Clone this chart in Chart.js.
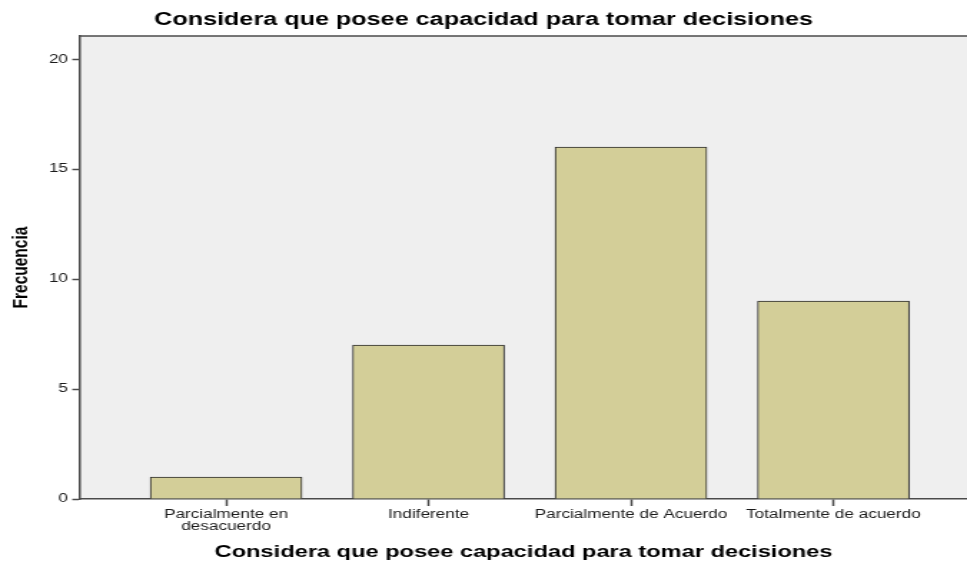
<!DOCTYPE html>
<html>
<head>
<meta charset="utf-8">
<script src="https://cdn.jsdelivr.net/npm/chart.js@4"></script>
<style>
  html, body { margin: 0; padding: 0; background: #ffffff; overflow: hidden; width: 967px; height: 565px; }
  #wrap { width: 676px; height: 565px; transform: scaleX(1.4305); transform-origin: 0 0; }
  canvas { display: block; }
</style>
</head>
<body>
<div id="wrap"><canvas id="c" width="676" height="565"></canvas></div>
<script>
// ---- data ----
const chartTitle = 'Considera que posee capacidad para tomar decisiones';
const xAxisTitle = 'Considera que posee capacidad para tomar decisiones';
const yAxisTitle = 'Frecuencia';
const categories = ['Parcialmente en desacuerdo', 'Indiferente', 'Parcialmente de Acuerdo', 'Totalmente de acuerdo'];
const categoryTickLabels = [['Parcialmente en', 'desacuerdo'], 'Indiferente', 'Parcialmente de Acuerdo', 'Totalmente de acuerdo'];
const frequencies = [1, 7, 16, 9];
const yTickValues = [0, 5, 10, 15, 20];

// ---- styling ----
const plotBg = '#EFEFEF';
const barFill = '#D3CE98';
const barEdge = '#2a2a2a';
const axisColor = '#4a4a4a';
const fontFamily = 'Liberation Sans, Arial, sans-serif';

const plotBackground = {
  id: 'plotBackground',
  beforeDraw(chart) {
    const { ctx, chartArea: a } = chart;
    ctx.save();
    ctx.fillStyle = plotBg;
    ctx.fillRect(a.left, a.top, a.right - a.left, a.bottom - a.top);
    ctx.restore();
  },
  afterDraw(chart) {
    const { ctx, chartArea: a } = chart;
    ctx.save();
    ctx.strokeStyle = axisColor;
    ctx.lineWidth = 1.5;
    ctx.beginPath();
    ctx.moveTo(a.left, a.top);
    ctx.lineTo(a.right, a.top);
    ctx.stroke();
    ctx.restore();
  }
};

const points = frequencies.map((v, i) => ({ x: i + 1, y: v }));

new Chart(document.getElementById('c'), {
  type: 'bar',
  data: {
    datasets: [{
      label: yAxisTitle,
      data: points,
      backgroundColor: barFill,
      borderColor: barEdge,
      borderWidth: 1,
      barThickness: 106
    }]
  },
  options: {
    responsive: false,
    animation: false,
    layout: { padding: { left: 0, right: 0, top: 0, bottom: 0 } },
    plugins: {
      legend: { display: false },
      tooltip: { enabled: false },
      title: {
        display: true,
        text: chartTitle,
        color: '#000',
        font: { family: fontFamily, size: 17.6, weight: 'bold', lineHeight: 1.2 },
        padding: { top: 10, bottom: 5 }
      }
    },
    scales: {
      x: {
        type: 'linear',
        offset: false,
        min: 0.279,
        max: 4.66,
        afterBuildTicks(scale) {
          scale.ticks = categories.map((_, i) => ({ value: i + 1 }));
        },
        afterFit(scale) { scale.height = 66; },
        ticks: {
          autoSkip: false,
          maxRotation: 0,
          color: '#1a1a1a',
          font: { family: fontFamily, size: 12, lineHeight: 1.0 },
          padding: 3,
          callback: (value) => categoryTickLabels[Math.round(value) - 1]
        },
        grid: { offset: false, drawOnChartArea: false, drawTicks: true, tickLength: 7, tickColor: axisColor, tickWidth: 1.5 },
        border: { display: true, color: axisColor, width: 1.5 },
        title: {
          display: true,
          text: xAxisTitle,
          color: '#000',
          font: { family: fontFamily, size: 16.5, weight: 'bold', lineHeight: 1.2 },
          padding: { top: 4, bottom: 3 }
        }
      },
      y: {
        min: 0,
        max: 21.05,
        afterBuildTicks(scale) {
          scale.ticks = yTickValues.map(v => ({ value: v }));
        },
        afterFit(scale) { scale.width = 56; },
        ticks: {
          color: '#1a1a1a',
          font: { family: fontFamily, size: 12 },
          padding: 3
        },
        grid: { drawOnChartArea: false, drawTicks: true, tickLength: 5.5, tickColor: axisColor, tickWidth: 1.5 },
        border: { display: true, color: axisColor, width: 1.5 },
        title: {
          display: true,
          text: yAxisTitle,
          color: '#000',
          font: { family: fontFamily, size: 15.5, weight: 'bold', lineHeight: 1.2 },
          padding: { top: 5, bottom: 0 }
        }
      }
    }
  },
  plugins: [plotBackground]
});
</script>
</body>
</html>
